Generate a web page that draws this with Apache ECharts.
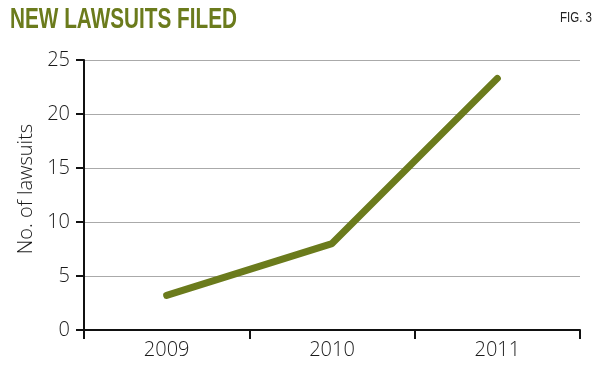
<!DOCTYPE html>
<html><head><meta charset="utf-8">
<script src="https://cdn.jsdelivr.net/npm/echarts@6/dist/echarts.min.js"></script>
<style>html,body{margin:0;padding:0;background:#fff}#c{width:600px;height:368px}</style>
</head><body><div id="c"></div>
<script>
const categories = ['2009', '2010', '2011'];
const lawsuits = [3.2, 8.0, 23.3];
const titleText = 'NEW LAWSUITS FILED';
const figText = 'FIG. 3';

function fitScale(text, font, target) {
  const ctx = document.createElement('canvas').getContext('2d');
  ctx.font = font;
  return target / ctx.measureText(text).width;
}
const titleFont = 'bold 29px "Liberation Sans", sans-serif';
const figFont = '14px "Liberation Sans", sans-serif';
const tScale = fitScale(titleText, titleFont, 227);
const fScale = fitScale(figText, figFont, 32);

const chart = echarts.init(document.getElementById('c'));
chart.setOption({
  animation: false,
  backgroundColor: '#fff',
  graphic: [
    { type: 'text', left: 10, top: 5, scaleX: tScale, originX: 0,
      style: { text: titleText, font: titleFont, fill: '#6b7b1c' } },
    { type: 'text', x: 560, y: 11, scaleX: fScale,
      style: { text: figText, font: figFont, fill: '#222' } }
  ],
  grid: { left: 84, right: 20, top: 60, bottom: 38, containLabel: false },
  xAxis: {
    type: 'category', data: categories, boundaryGap: true,
    axisLine: { lineStyle: { color: '#111', width: 2 } },
    axisTick: { show: true, length: 9, lineStyle: { color: '#111', width: 2 } },
    axisLabel: { color: '#1a1a1a', fontFamily: 'Open Sans, sans-serif', fontWeight: 300, fontSize: 20, margin: 10 },
    splitLine: { show: false }
  },
  yAxis: {
    type: 'value', min: 0, max: 25, interval: 5,
    name: 'No. of lawsuits', nameLocation: 'middle', nameGap: 48, nameRotate: 90,
    nameTextStyle: { color: '#1a1a1a', fontFamily: 'Open Sans, sans-serif', fontWeight: 300, fontSize: 20, padding: [0, 0, 0, 12] },
    axisLine: { show: true, lineStyle: { color: '#111', width: 2 } },
    axisTick: { show: true, length: 8, lineStyle: { color: '#111', width: 2 } },
    axisLabel: { color: '#1a1a1a', fontFamily: 'Open Sans, sans-serif', fontWeight: 300, fontSize: 20, margin: 14 },
    splitLine: { show: true, lineStyle: { color: '#aaa', width: 1 } }
  },
  series: [{
    type: 'line', data: lawsuits, symbol: 'none',
    lineStyle: { color: '#6b7b1c', width: 7, cap: 'round', join: 'round' }
  }]
});
</script></body></html>
